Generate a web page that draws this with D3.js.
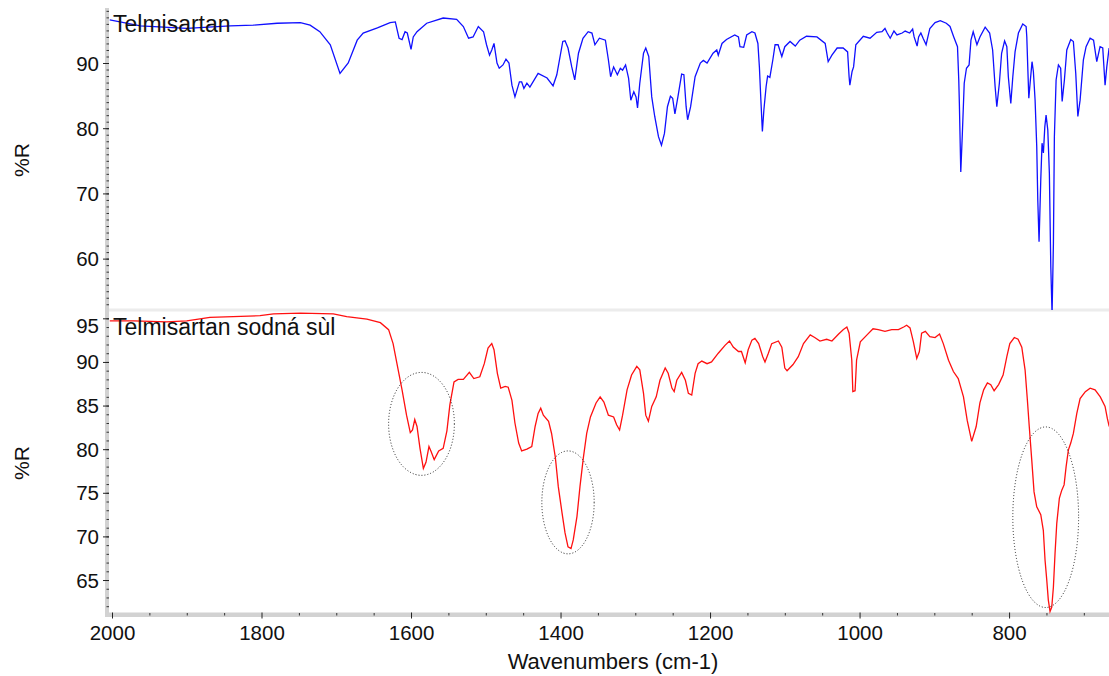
<!DOCTYPE html>
<html>
<head>
<meta charset="utf-8">
<script src="https://cdn.jsdelivr.net/npm/d3@7"></script>
<style>
  html, body { margin: 0; padding: 0; background: #ffffff; }
  svg { display: block; font-family: "Liberation Sans", Arial, sans-serif; }
</style>
</head>
<body>
<svg id="chart" width="1109" height="676"></svg>
<script>
// ---- Data (wavenumber cm-1, %R) ----
const telmisartanSpectrum = [
[2003,96.6],[1962,95.7],[1900,95.3],[1842,95.7],[1811,95.8],[1779,96.1],[1748,96.2],[1735,95.8],[1722,94.8],[1708,92.8],[1695,88.4],[1684,90.0],[1672,93.5],[1664,94.6],[1645,95.4],[1628,96.2],[1621,96.3],[1616,93.8],[1612,93.6],[1608,94.8],[1605,94.6],[1600,92.1],[1597,94.0],[1592,94.8],[1579,96.1],[1557,96.9],[1539,96.7],[1530,95.6],[1523,93.8],[1517,94.0],[1510,95.6],[1503,94.8],[1499,92.8],[1495,91.2],[1492,92.0],[1489,93.0],[1485,90.0],[1482,89.2],[1477,89.7],[1473,90.6],[1469,90.0],[1465,86.6],[1461,84.8],[1455,87.1],[1452,87.1],[1449,86.1],[1445,86.9],[1441,86.3],[1430,88.4],[1418,87.7],[1410,86.5],[1405,88.2],[1397,93.3],[1394,93.4],[1390,92.3],[1385,89.4],[1381,87.4],[1376,91.5],[1370,93.8],[1363,94.8],[1358,94.6],[1354,92.8],[1348,93.8],[1340,93.5],[1336,90.5],[1333,87.9],[1329,89.4],[1324,88.2],[1320,89.2],[1317,88.9],[1313,89.7],[1309,87.7],[1306,84.3],[1302,85.6],[1299,84.8],[1297,83.1],[1294,86.9],[1289,91.5],[1286,92.3],[1282,91.0],[1278,84.8],[1274,81.8],[1269,78.7],[1265,77.4],[1261,79.2],[1257,83.3],[1253,84.9],[1250,84.6],[1247,82.2],[1243,84.8],[1238,88.3],[1235,88.2],[1232,83.3],[1230,81.3],[1226,83.3],[1220,87.9],[1213,90.0],[1209,90.4],[1204,90.0],[1196,91.5],[1191,92.0],[1189,91.2],[1184,93.0],[1178,93.6],[1167,94.3],[1162,94.0],[1160,92.5],[1155,92.4],[1151,94.3],[1144,94.8],[1140,94.6],[1136,93.0],[1134,89.4],[1132,84.3],[1130,79.5],[1128,82.8],[1125,86.4],[1123,88.0],[1120,87.8],[1116,90.5],[1113,92.8],[1109,92.8],[1104,91.0],[1100,92.5],[1093,93.3],[1086,92.6],[1080,93.5],[1071,94.1],[1057,94.0],[1046,93.0],[1042,90.2],[1037,91.2],[1030,92.3],[1022,92.3],[1016,91.7],[1014,87.9],[1013,86.6],[1010,88.7],[1008,89.4],[1005,92.8],[995,94.1],[986,93.8],[977,94.7],[970,94.8],[966,95.3],[963,94.6],[959,93.8],[954,94.9],[950,94.3],[943,94.6],[939,94.9],[933,94.6],[929,95.2],[927,94.0],[923,92.6],[921,94.0],[918,94.6],[915,93.8],[911,92.8],[906,95.3],[899,96.2],[892,96.5],[884,96.1],[879,95.6],[874,94.0],[869,92.5],[867.3,87.4],[866.5,83.8],[864.6,73.3],[862.5,79.2],[860,86.9],[857,89.2],[853.5,89.7],[851,93.5],[848,94.8],[843,92.8],[839,94.0],[832,95.5],[826,94.6],[822,92.0],[818.7,86.4],[816.4,83.3],[813,86.9],[810,91.5],[806,93.4],[803,92.5],[801,87.9],[797.7,83.8],[795,87.9],[792,91.7],[787.5,94.6],[781.7,96.0],[777.2,95.6],[776.3,94.0],[775,89.4],[773.6,84.6],[771.5,87.4],[769.3,90.2],[767.5,88.7],[765.2,84.3],[763,77.2],[761.6,69.0],[759.9,62.6],[757.6,72.1],[755.9,77.7],[754.1,76.2],[752.2,80.2],[750.5,82.0],[748.2,79.7],[746.1,73.1],[744.2,58.8],[742.5,51.5],[740.7,62.3],[739.4,78.7],[737.1,87.4],[734,89.7],[731,89.2],[729,84.1],[726,87.4],[722.8,92.0],[717.5,93.6],[714,93.3],[710.8,88.4],[708,81.8],[705,84.3],[700.6,90.5],[697,92.5],[691.6,93.8],[687,93.5],[682.7,90.2],[678.3,92.5],[674.7,92.3],[671.6,86.6],[669.3,89.4],[666.2,92.3]
];

const sodiumSaltSpectrum = [
[2003,94.7],[1971,94.7],[1927,94.6],[1900,94.7],[1869,95.1],[1838,95.2],[1802,95.3],[1784,95.5],[1748,95.6],[1704,95.5],[1686,95.2],[1659,94.9],[1641,94.5],[1630,93.7],[1624,92.1],[1617,89.0],[1612,86.8],[1606,83.9],[1601,81.9],[1598,82.2],[1595,83.4],[1592,82.6],[1588,80.1],[1583.5,77.8],[1580,78.5],[1576,80.3],[1573,79.7],[1569,78.8],[1563,79.8],[1557,80.1],[1552,82.1],[1548,85.1],[1542.5,87.7],[1537,88.0],[1530,88.0],[1522,88.8],[1516,88.1],[1508,88.3],[1502,89.8],[1497,91.6],[1492,92.1],[1489,91.4],[1484.5,88.7],[1480,87.0],[1474,87.2],[1470,87.1],[1465,85.6],[1461,83.0],[1456,80.7],[1452,79.8],[1445,80.0],[1438.5,80.3],[1434,82.6],[1430,84.1],[1426.5,84.7],[1423,83.9],[1416,83.2],[1412,81.8],[1407,79.1],[1403,75.7],[1398,72.7],[1394,70.4],[1390,68.8],[1386,68.6],[1383,69.6],[1378,72.3],[1374,75.7],[1369.5,79.0],[1365,81.8],[1360,83.7],[1352.5,85.3],[1347,86.0],[1342,85.4],[1336,83.9],[1329,83.7],[1325,82.8],[1321,82.2],[1317,83.9],[1311,86.8],[1305,88.5],[1298,89.5],[1294,89.1],[1289,86.4],[1286,83.9],[1282.5,83.2],[1278,84.9],[1272,86.0],[1267,87.9],[1260,89.3],[1256,88.7],[1251,87.0],[1248,86.6],[1244.5,87.9],[1238,88.8],[1233,87.9],[1229,86.4],[1224.5,86.2],[1220,88.7],[1216,89.8],[1211,90.1],[1204,89.8],[1198,90.0],[1189,91.0],[1180,91.9],[1174,92.4],[1169,91.7],[1162,91.2],[1158,91.2],[1153,89.9],[1149,91.4],[1144,92.5],[1140,92.7],[1135,92.1],[1129.5,90.6],[1126.5,90.0],[1122,91.0],[1117.5,92.1],[1108.6,92.4],[1104,91.7],[1100,89.3],[1097,89.0],[1089,89.7],[1082,90.6],[1075,92.1],[1066,93.1],[1060,92.8],[1053,92.4],[1044,92.6],[1037,92.4],[1028,93.2],[1022,93.7],[1017,94.0],[1014,93.3],[1010.4,90.2],[1009,86.6],[1006,86.7],[1004,90.2],[999,92.3],[990,93.1],[982,93.8],[975,93.7],[966,93.5],[957,93.7],[948,93.7],[941,94.0],[937,94.2],[932.5,93.9],[928,92.3],[923.5,90.4],[920,91.2],[917,93.3],[912,93.5],[906,92.9],[899,92.8],[893,93.2],[888,92.1],[881,90.2],[874.5,88.9],[868,88.1],[861,86.0],[856,83.3],[850,80.9],[844,82.6],[839,85.3],[834,86.8],[829,87.6],[824.5,87.4],[820,86.7],[814,87.4],[808,88.5],[803,90.6],[799,92.1],[793,92.8],[788,92.6],[783,91.7],[778.6,89.1],[775.5,85.6],[773,82.6],[769.7,78.8],[766.6,75.1],[763,73.4],[757.6,72.5],[754.2,70.7],[751.9,67.3],[749.6,65.0],[747.5,62.7],[745.2,61.4],[742.9,61.9],[740.7,64.2],[738.5,68.1],[736.2,71.5],[732.7,74.4],[729.5,75.3],[726.4,75.9],[723.7,78.0],[720.7,79.9],[717.5,80.7],[714,81.8],[709.4,84.1],[705,85.8],[698,86.6],[691.6,87.0],[685,86.8],[678,86.0],[671.6,84.9],[668.5,83.5],[666,82.6]
];

const seriesNames = ["Telmisartan", "Telmisartan sodná sùl"];
const xTickValues = [2000, 1800, 1600, 1400, 1200, 1000, 800];
const topYTicks = [60, 70, 80, 90];
const bottomYTicks = [65, 70, 75, 80, 85, 90, 95];
// highlighted bands (centre wavenumber, centre %R, half-width cm-1, half-height %R)
const ellipseCentersWn = [1586, 1390, 751];
const ellipseCentersR = [82.9, 73.9, 72.2];
const ellipseHalfWidthWn = [44, 35, 44];
const ellipseHalfHeightR = [5.9, 5.9, 10.35];

// ---- Layout ----
const svg = d3.select("#chart");
const FONT = '"Liberation Sans", Arial, sans-serif';
const plotLeft = 109, plotRight = 1109;
const topPanel = { top: 10, bottom: 310 };
const botPanel = { top: 311, bottom: 615 };

const x = d3.scaleLinear().domain([2000, 665]).range([112, 1110]);
const yTop = d3.scaleLinear().domain([52.12, 98.13]).range([topPanel.bottom, topPanel.top]);
const yBot = d3.scaleLinear().domain([60.99, 95.84]).range([botPanel.bottom, botPanel.top]);

const defs = svg.append("defs");
defs.append("clipPath").attr("id", "clipTop").append("rect")
  .attr("x", plotLeft).attr("y", topPanel.top - 2)
  .attr("width", plotRight - plotLeft).attr("height", topPanel.bottom - topPanel.top + 2);
defs.append("clipPath").attr("id", "clipBot").append("rect")
  .attr("x", plotLeft).attr("y", botPanel.top)
  .attr("width", plotRight - plotLeft).attr("height", botPanel.bottom - botPanel.top - 1);

// axis bands
svg.append("rect").attr("x", 109).attr("y", 308.5).attr("width", 1000).attr("height", 3)
  .attr("fill", "#ececec");
svg.append("rect").attr("x", 105).attr("y", 8).attr("width", 4).attr("height", 609)
  .attr("fill", "#d2d2d2");
svg.append("rect").attr("x", 105).attr("y", 612.5).attr("width", 1004).attr("height", 4.5)
  .attr("fill", "#d2d2d2");

// ---- Y axes ----
function yAxis(scale, majors, minorRange, labelShift) {
  const g = svg.append("g");
  g.append("g").attr("transform", "translate(109,0)")
    .call(d3.axisLeft(scale).tickValues(minorRange).tickSize(2.5).tickFormat(""))
    .call(s => s.select(".domain").remove())
    .call(s => s.selectAll(".tick line").attr("stroke", "#333"));
  const maj = g.append("g").attr("transform", "translate(109,0)")
    .call(d3.axisLeft(scale).tickValues(majors).tickSize(6).tickPadding(4).tickFormat(d3.format("d")))
    .call(s => s.select(".domain").remove());
  maj.selectAll(".tick line").attr("stroke", "#222");
  maj.selectAll(".tick text")
    .attr("font-family", FONT).attr("font-size", 20.5).attr("fill", "#111")
    .attr("dy", d => (labelShift[d] || 0) + 7).attr("x", -10);
  return g;
}
yAxis(yTop, topYTicks, d3.range(53, 98.5, 1), {});
yAxis(yBot, bottomYTicks, d3.range(62, 96, 1), { 95: 7 });

// ---- X axis ----
const xMinor = d3.range(1950, 664, -50).filter(v => v % 200 !== 0);
svg.append("g").attr("transform", "translate(0,613)")
  .call(d3.axisBottom(x).tickValues(xMinor).tickSize(2.5).tickFormat(""))
  .call(s => s.select(".domain").remove())
  .call(s => s.selectAll(".tick line").attr("stroke", "#333"));
const xa = svg.append("g").attr("transform", "translate(0,612.5)")
  .call(d3.axisBottom(x).tickValues(xTickValues).tickSize(6).tickPadding(0).tickFormat(d3.format("d")))
  .call(s => s.select(".domain").remove());
xa.selectAll(".tick line").attr("stroke", "#222");
xa.selectAll(".tick text").attr("font-family", FONT).attr("font-size", 20.5)
  .attr("fill", "#111").attr("y", 12.5).attr("dy", "0.71em");

// ---- Lines ----
const lineTop = d3.line().x(d => x(d[0])).y(d => yTop(d[1]));
const lineBot = d3.line().x(d => x(d[0])).y(d => yBot(d[1]));

svg.append("path").datum(telmisartanSpectrum)
  .attr("clip-path", "url(#clipTop)")
  .attr("d", lineTop).attr("fill", "none").attr("stroke", "#1010ff")
  .attr("stroke-width", 1.3).attr("stroke-linejoin", "miter");

svg.append("path").datum(sodiumSaltSpectrum)
  .attr("clip-path", "url(#clipBot)")
  .attr("d", lineBot).attr("fill", "none").attr("stroke", "#ff1010")
  .attr("stroke-width", 1.3).attr("stroke-linejoin", "miter");

// ---- Ellipse annotations ----
ellipseCentersWn.forEach((wn, i) => {
  const cx = x(wn), cy = yBot(ellipseCentersR[i]);
  const rx = Math.abs(x(wn + ellipseHalfWidthWn[i]) - cx);
  const ry = Math.abs(yBot(ellipseCentersR[i] + ellipseHalfHeightR[i]) - cy);
  svg.append("ellipse").attr("cx", cx).attr("cy", cy).attr("rx", rx).attr("ry", ry)
    .attr("fill", "none").attr("stroke", "#222").attr("stroke-width", 1)
    .attr("stroke-dasharray", "1,2");
});

// ---- Panel titles ----
svg.append("text").attr("x", 113).attr("y", 32).text(seriesNames[0])
  .attr("font-family", FONT).attr("font-size", 23).attr("fill", "#111");
svg.append("text").attr("x", 113).attr("y", 335).text(seriesNames[1])
  .attr("font-family", FONT).attr("font-size", 23).attr("fill", "#111");

// ---- Axis titles ----
[160, 463].forEach(cy => {
  svg.append("text").attr("transform", `translate(29,${cy}) rotate(-90)`)
    .attr("text-anchor", "middle").text("%R")
    .attr("font-family", FONT).attr("font-size", 21).attr("fill", "#111");
});
svg.append("text").attr("x", 613).attr("y", 669).attr("text-anchor", "middle")
  .text("Wavenumbers (cm-1)").attr("font-family", FONT).attr("font-size", 22).attr("fill", "#111");
</script>
</body>
</html>
